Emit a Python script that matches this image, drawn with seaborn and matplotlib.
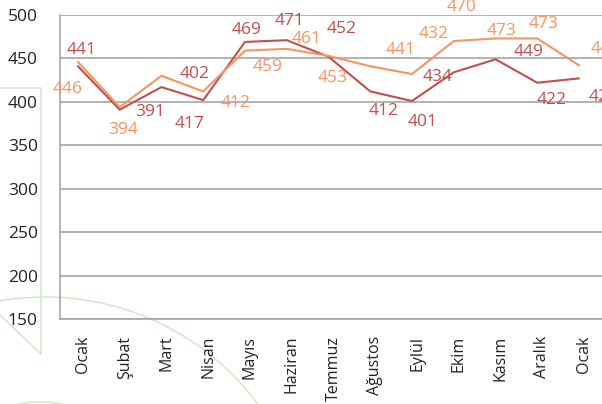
import pandas as pd
import matplotlib.pyplot as plt
import seaborn as sns
from matplotlib.patches import Circle
from matplotlib.transforms import ScaledTranslation

# Data
months = ["Ocak", "Şubat", "Mart", "Nisan", "Mayıs", "Haziran", "Temmuz",
          "Ağustos", "Eylül", "Ekim", "Kasım", "Aralık", "Ocak"]
series_dark = [441, 391, 417, 402, 469, 471, 452, 412, 401, 434, 449, 422, 427]
series_light = [446, 394, 430, 412, 459, 461, 453, 441, 432, 470, 473, 473, 442]
light_hidden = [2]  # Mart label of the light series is not shown

# label offsets in pixels (dx right, dy down)
off_dark = [(4, -16), (30, 2), (28, 37), (-9, -26), (2, -12), (3, -19), (13, -28),
            (13, 20), (11, 21), (-16, 5), (33, -7), (14, 17), (25, 19)]
off_light = [(-10, 27), (3, 23), (0, 0), (32, 12), (23, 16), (20, -10), (4, 22),
             (30, -16), (22, -40), (8, -34), (6, -7), (6, -14), (27, -16)]

c_dark = "#C0504D"
c_light = "#F7945F"
green = "#cfe6c6"

df = pd.DataFrame({
    "pos": list(range(len(months))) * 2,
    "value": series_dark + series_light,
    "series": ["dark"] * len(months) + ["light"] * len(months),
})

sns.set_style("white")
plt.rcParams["font.family"] = ["Open Sans", "DejaVu Sans"]

fig = plt.figure(figsize=(6.02, 4.04), dpi=100)

# decorative background shapes (pixel coordinates)
bg = fig.add_axes([0, 0, 1, 1], zorder=-1)
bg.set_xlim(0, 602)
bg.set_ylim(404, 0)
bg.axis("off")
bg.plot([0, 41, 41, 0], [88, 88, 354, 315], color=green, lw=1)
bg.add_patch(Circle((45, 562), 265, fill=False, ec=green, lw=1))
bg.add_patch(Circle((40, 522), 120, fill=False, ec=green, lw=1))

ax = fig.add_axes([60 / 602, 85 / 404, 542 / 602, 304 / 404])
ax.patch.set_alpha(0)

sns.lineplot(data=df, x="pos", y="value", hue="series",
             palette={"dark": c_dark, "light": c_light},
             legend=False, linewidth=1.5, ax=ax)

for i, v in enumerate(series_dark):
    ax.annotate(str(v), (i, v), xytext=(off_dark[i][0], -off_dark[i][1]),
                textcoords="offset pixels", ha="center", va="center",
                color=c_dark, fontsize=12.5, annotation_clip=False)
for i, v in enumerate(series_light):
    if i in light_hidden:
        continue
    ax.annotate(str(v), (i, v), xytext=(off_light[i][0], -off_light[i][1]),
                textcoords="offset pixels", ha="center", va="center",
                color=c_light, fontsize=12.5, annotation_clip=False)

ax.set_xlim(-0.43, 12.55)
ax.set_ylim(150, 500)
ax.set_yticks(range(150, 501, 50))
ax.set_xticks(range(len(months)))
ax.set_xticklabels(months, rotation=90)
ax.set_xlabel("")
ax.set_ylabel("")
ax.grid(axis="y", color="#a6a6a6", linewidth=1.2)
ax.tick_params(axis="y", length=0, pad=16, labelsize=12.5, labelcolor="#222222")
ax.tick_params(axis="x", length=0, pad=12, labelsize=11.5, labelcolor="#222222")
shift = ScaledTranslation(5 / 100, 0, fig.dpi_scale_trans)
for lab in ax.get_xticklabels():
    lab.set_transform(lab.get_transform() + shift)
for side in ["top", "right"]:
    ax.spines[side].set_visible(False)
for side in ["left", "bottom"]:
    ax.spines[side].set_color("#a6a6a6")
    ax.spines[side].set_linewidth(1.2)

plt.savefig("out.png", dpi=100)
